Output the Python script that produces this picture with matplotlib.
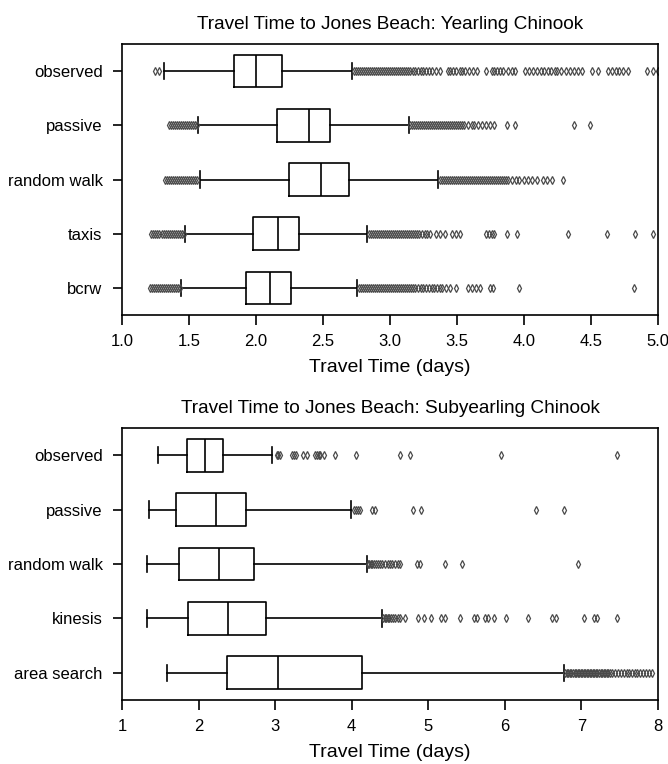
import matplotlib.pyplot as plt
import numpy as np

plt.rcParams['font.family'] = ['Liberation Sans', 'DejaVu Sans']

# Yearling Chinook: summary stats of simulated travel times (days)
yr_labels = ["observed", "passive", "random walk", "taxis", "bcrw"]
yr_q1 = [1.836, 2.154, 2.249, 1.980, 1.925]
yr_med = [2.000, 2.396, 2.488, 2.166, 2.104]
yr_q3 = [2.194, 2.550, 2.694, 2.323, 2.261]
yr_lo = [1.316, 1.565, 1.582, 1.470, 1.440]
yr_hi = [2.720, 3.142, 3.360, 2.830, 2.756]
yr_fliers = [
    [1.25, 1.28,
     2.73, 2.745, 2.76, 2.775, 2.79, 2.805, 2.82, 2.835, 2.85, 2.865, 2.88,
     2.895, 2.91, 2.925, 2.94, 2.955, 2.97, 2.985, 3.00, 3.015, 3.03, 3.045,
     3.06, 3.075, 3.09, 3.105, 3.12, 3.135, 3.15, 3.17, 3.19, 3.21, 3.23,
     3.25, 3.27, 3.29, 3.31, 3.34, 3.37, 3.43, 3.45, 3.47, 3.49,
     3.52, 3.54, 3.56, 3.59, 3.62, 3.65, 3.72, 3.76, 3.78, 3.80, 3.82, 3.84,
     3.88, 3.91, 3.93, 4.01, 4.04, 4.07, 4.10, 4.13, 4.15, 4.18, 4.20, 4.23,
     4.25, 4.28, 4.31, 4.34, 4.37, 4.40, 4.43, 4.51, 4.55, 4.63, 4.66, 4.69,
     4.71, 4.74, 4.78, 4.92, 4.96, 5.00],
    [1.35, 1.365, 1.38, 1.395, 1.41, 1.425, 1.44, 1.455, 1.47, 1.485, 1.50,
     1.515, 1.53, 1.545, 1.56,
     3.15, 3.165, 3.18, 3.195, 3.21, 3.225, 3.24, 3.255, 3.27, 3.285, 3.30,
     3.315, 3.33, 3.345, 3.36, 3.375, 3.39, 3.405, 3.42, 3.435, 3.45, 3.465,
     3.48, 3.495, 3.51, 3.525, 3.54, 3.555, 3.58, 3.61, 3.63,
     3.66, 3.69, 3.72, 3.75, 3.78, 3.87, 3.93, 4.37, 4.49],
    [1.32, 1.335, 1.35, 1.365, 1.38, 1.395, 1.41, 1.425, 1.44, 1.455, 1.47,
     1.485, 1.50, 1.515, 1.53, 1.545, 1.56,
     3.37, 3.385, 3.40, 3.415, 3.43, 3.445, 3.46, 3.475, 3.49, 3.505, 3.52,
     3.535, 3.55, 3.565, 3.58, 3.595, 3.61, 3.625, 3.64, 3.655, 3.67, 3.685,
     3.70, 3.715, 3.73, 3.745, 3.76, 3.775, 3.79, 3.805, 3.82, 3.835, 3.85,
     3.865, 3.88, 3.91, 3.94, 3.96, 4.00, 4.03, 4.06, 4.10, 4.14, 4.17,
     4.21, 4.29],
    [1.22, 1.235, 1.25, 1.265, 1.28, 1.295, 1.31, 1.325, 1.34, 1.355, 1.37,
     1.385, 1.40, 1.415, 1.43, 1.445, 1.46,
     2.84, 2.855, 2.87, 2.885, 2.90, 2.915, 2.93, 2.945, 2.96, 2.975, 2.99,
     3.005, 3.02, 3.035, 3.05, 3.065, 3.08, 3.095, 3.11, 3.125, 3.14, 3.155,
     3.17, 3.185, 3.20, 3.22, 3.24, 3.26, 3.28, 3.30,
     3.34, 3.37, 3.41, 3.46, 3.49, 3.52, 3.72, 3.74, 3.76, 3.78, 3.87, 3.95,
     4.33, 4.62, 4.83, 4.96],
    [1.21, 1.225, 1.24, 1.255, 1.27, 1.285, 1.30, 1.315, 1.33, 1.345, 1.36,
     1.375, 1.39, 1.405, 1.42, 1.435,
     2.77, 2.785, 2.80, 2.815, 2.83, 2.845, 2.86, 2.875, 2.89, 2.905, 2.92,
     2.935, 2.95, 2.965, 2.98, 2.995, 3.01, 3.025, 3.04, 3.055, 3.07, 3.085,
     3.10, 3.115, 3.13, 3.145, 3.16, 3.175, 3.19, 3.21, 3.23,
     3.25, 3.27, 3.29, 3.31, 3.33, 3.35, 3.37, 3.39, 3.42, 3.45, 3.49, 3.58,
     3.61, 3.64, 3.67, 3.75, 3.77, 3.96, 4.82],
]

# Subyearling Chinook
sy_labels = ["observed", "passive", "random walk", "kinesis", "area search"]
sy_q1 = [1.853, 1.700, 1.740, 1.866, 2.375]
sy_med = [2.080, 2.232, 2.270, 2.389, 3.040]
sy_q3 = [2.319, 2.624, 2.728, 2.885, 4.140]
sy_lo = [1.475, 1.353, 1.322, 1.322, 1.590]
sy_hi = [2.963, 3.987, 4.195, 4.390, 6.770]
sy_fliers = [
    [3.02, 3.04, 3.07, 3.22, 3.25, 3.27, 3.37, 3.42, 3.52, 3.55, 3.57, 3.59,
     3.64, 3.78, 4.06, 4.63, 4.76, 5.95, 7.46],
    [4.03, 4.06, 4.08, 4.11, 4.27, 4.30, 4.80, 4.90, 6.41, 6.77],
    [4.21, 4.23, 4.25, 4.27, 4.29, 4.32, 4.34, 4.37, 4.40, 4.43, 4.47, 4.50,
     4.53, 4.57, 4.60, 4.63, 4.85, 4.89, 5.22, 5.44, 6.95],
    [4.41, 4.43, 4.45, 4.47, 4.49, 4.51, 4.54, 4.57, 4.60, 4.63, 4.70, 4.86,
     4.95, 5.04, 5.17, 5.22, 5.41, 5.60, 5.63, 5.74, 5.78, 5.86, 6.01, 6.30,
     6.62, 6.67, 7.03, 7.17, 7.21, 7.46],
    [6.79, 6.81, 6.83, 6.85, 6.87, 6.89, 6.91, 6.93, 6.95, 6.97, 6.99, 7.01,
     7.03, 7.05, 7.07, 7.09, 7.11, 7.13, 7.15, 7.17, 7.19, 7.21, 7.23, 7.25,
     7.27, 7.29, 7.31, 7.33, 7.35, 7.37, 7.40, 7.44, 7.48, 7.52, 7.55, 7.59,
     7.62, 7.66, 7.70, 7.73, 7.77, 7.80, 7.84, 7.88, 7.92],
]


def make_stats(labels, q1, med, q3, lo, hi, fliers):
    stats = []
    for i in range(len(labels)):
        stats.append({'label': labels[i], 'q1': q1[i], 'med': med[i], 'q3': q3[i],
                      'whislo': lo[i], 'whishi': hi[i], 'fliers': np.array(fliers[i])})
    return stats


def draw_panel(ax, stats, title, xlim, xticks, xticklabels):
    n = len(stats)
    ax.bxp(stats, positions=list(range(n, 0, -1)), orientation='horizontal',
           widths=0.6, showfliers=True,
           boxprops=dict(color='black', linewidth=1.2),
           medianprops=dict(color='black', linewidth=1.2),
           whiskerprops=dict(color='black', linewidth=1.2),
           capprops=dict(color='black', linewidth=1.2),
           flierprops=dict(marker='d', markersize=4, markerfacecolor='none',
                           markeredgecolor='#4a4a4a', markeredgewidth=0.9))
    ax.set_xlim(*xlim)
    ax.set_ylim(0.5, n + 0.5)
    ax.set_xticks(xticks)
    ax.set_xticklabels(xticklabels, fontsize=12)
    ax.tick_params(axis='y', labelsize=12, length=6.5, width=1.2, pad=7.5)
    ax.tick_params(axis='x', length=7, width=1.2, pad=7)
    ax.set_title(title, fontsize=13.7, pad=11)
    ax.set_xlabel("Travel Time (days)", fontsize=14, labelpad=7)
    for s in ax.spines.values():
        s.set_linewidth(1.2)


fig = plt.figure(figsize=(6.68, 7.64), dpi=100)
ax1 = fig.add_axes([0.1826, 0.5877, 0.8024, 0.3547])
ax2 = fig.add_axes([0.1826, 0.0838, 0.8024, 0.3560])

draw_panel(ax1, make_stats(yr_labels, yr_q1, yr_med, yr_q3, yr_lo, yr_hi, yr_fliers),
           "Travel Time to Jones Beach: Yearling Chinook", (1.0, 5.0),
           [1.0, 1.5, 2.0, 2.5, 3.0, 3.5, 4.0, 4.5, 5.0],
           ["1.0", "1.5", "2.0", "2.5", "3.0", "3.5", "4.0", "4.5", "5.0"])
draw_panel(ax2, make_stats(sy_labels, sy_q1, sy_med, sy_q3, sy_lo, sy_hi, sy_fliers),
           "Travel Time to Jones Beach: Subyearling Chinook", (1, 8),
           [1, 2, 3, 4, 5, 6, 7, 8], ["1", "2", "3", "4", "5", "6", "7", "8"])

fig.savefig("out.png", dpi=100)
